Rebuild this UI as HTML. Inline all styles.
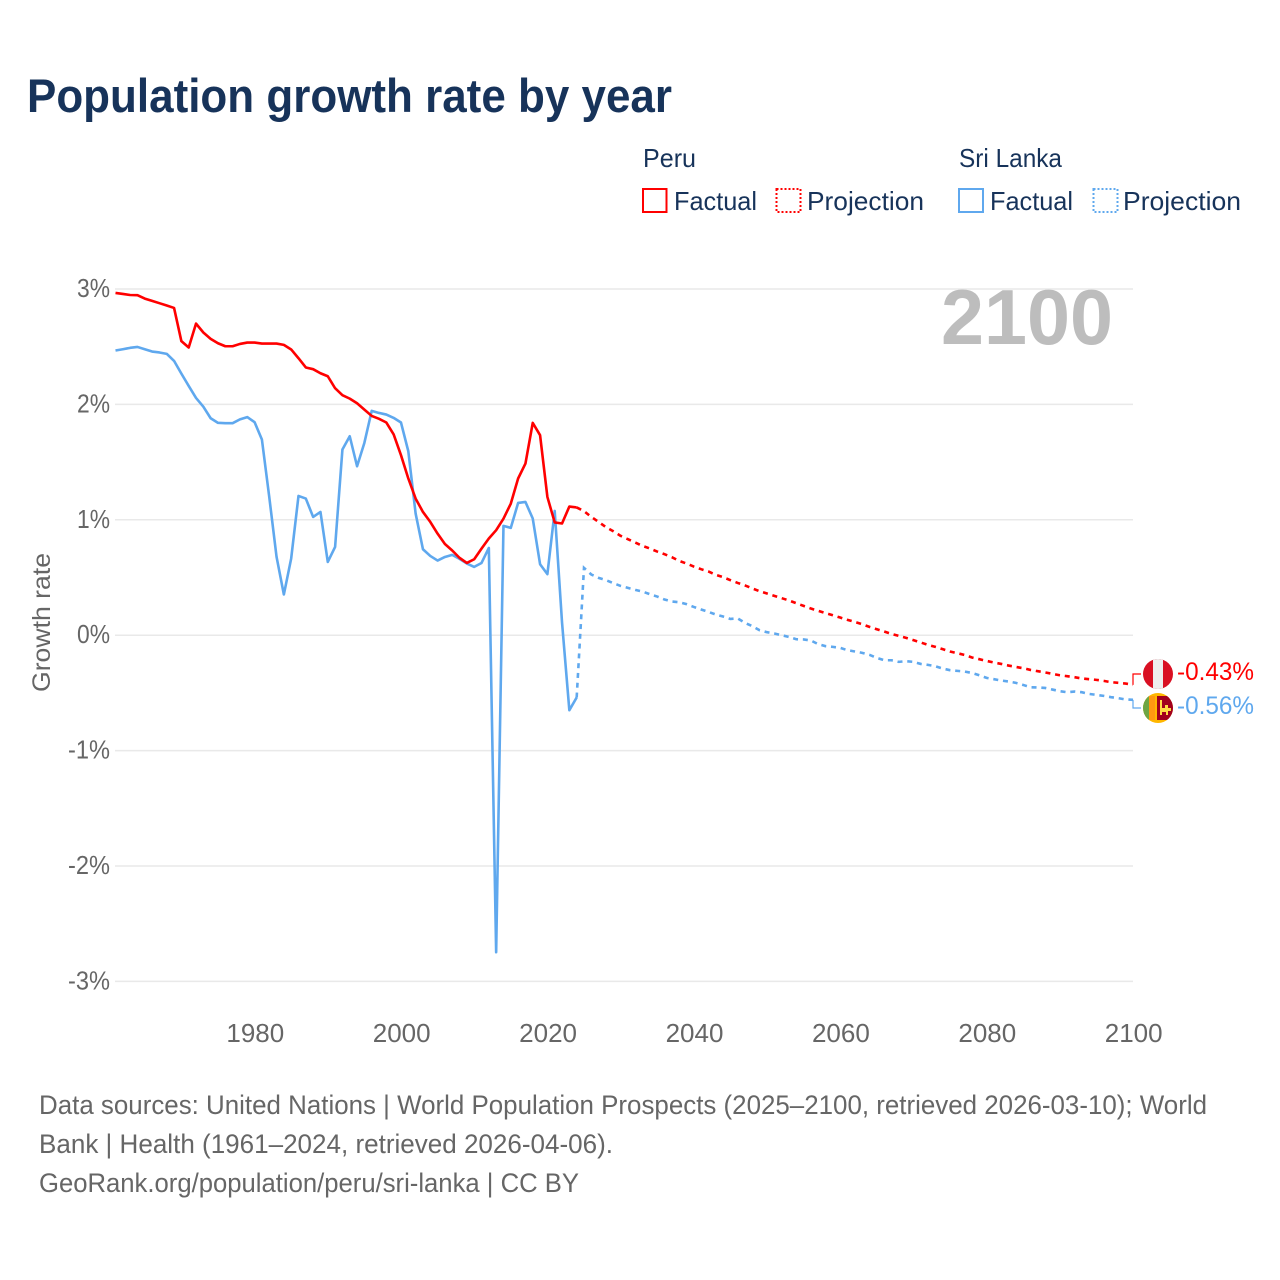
<!DOCTYPE html>
<html lang="en">
<head>
<meta charset="utf-8">
<title>Population growth rate by year</title>
<style>
  html, body { margin: 0; padding: 0; background: #fff; }
  svg { display: block; font-family: "Liberation Sans", sans-serif; }
</style>
</head>
<body>
<svg id="chart" xmlns="http://www.w3.org/2000/svg" width="1280" height="1280" viewBox="0 0 1280 1280">
  <rect width="1280" height="1280" fill="#ffffff"/>
  <text x="27" y="112" font-size="47" font-weight="700" fill="#17335a" textLength="645" lengthAdjust="spacingAndGlyphs">Population growth rate by year</text>

  <g font-size="26" fill="#17335a">
    <text x="643" y="167" textLength="53" lengthAdjust="spacingAndGlyphs">Peru</text>
    <text x="959" y="167" textLength="103" lengthAdjust="spacingAndGlyphs">Sri Lanka</text>
    <rect x="643" y="189" width="23.5" height="23" fill="none" stroke="#ff0000" stroke-width="2"/>
    <text x="674" y="210" textLength="83" lengthAdjust="spacingAndGlyphs">Factual</text>
    <rect x="776.5" y="189" width="24" height="23" fill="none" stroke="#ff0000" stroke-width="2" stroke-dasharray="2 2"/>
    <text x="807" y="210" textLength="117" lengthAdjust="spacingAndGlyphs">Projection</text>
    <rect x="959" y="189" width="24" height="23" fill="none" stroke="#5fa8ee" stroke-width="2"/>
    <text x="990" y="210" textLength="83" lengthAdjust="spacingAndGlyphs">Factual</text>
    <rect x="1093.5" y="189" width="24" height="23" fill="none" stroke="#5fa8ee" stroke-width="2" stroke-dasharray="2 2"/>
    <text x="1123" y="210" textLength="118" lengthAdjust="spacingAndGlyphs">Projection</text>
  </g>

  <g id="grid"></g>
  <g id="yticks" font-size="26" fill="#666666" text-anchor="end"></g>
  <g id="xticks" font-size="26" fill="#666666" text-anchor="middle"></g>
  <text transform="translate(50,622.5) rotate(-90)" text-anchor="middle" font-size="25" fill="#666666" textLength="139" lengthAdjust="spacingAndGlyphs">Growth rate</text>
  <text x="941" y="344" font-size="78" font-weight="700" fill="#bdbdbd" textLength="172" lengthAdjust="spacingAndGlyphs">2100</text>

  <g id="series"></g>

  <defs>
    <clipPath id="clip-peru"><circle cx="1158" cy="674" r="15"/></clipPath>
    <clipPath id="clip-lk"><circle cx="1158" cy="708" r="15"/></clipPath>
  </defs>
  <g clip-path="url(#clip-peru)">
    <rect x="1143" y="659" width="30" height="30" fill="#d91023"/>
    <rect x="1153" y="659" width="10" height="30" fill="#eeeeee"/>
  </g>
  <g clip-path="url(#clip-lk)">
    <rect x="1143" y="693" width="30" height="30" fill="#ffb700"/>
    <rect x="1143" y="696" width="6" height="24" fill="#6da544"/>
    <rect x="1149" y="696" width="6" height="24" fill="#ff9811"/>
    <rect x="1157" y="696" width="16" height="24" fill="#a2001d"/>
    <path d="M1160 700h2v8h3v-3h3v3h3v3h-3v4h-2v-3h-4v3h-2z" fill="#ffda44"/>
  </g>
  <text id="label-peru" x="1177" y="680" font-size="25" fill="#ff0000" textLength="77" lengthAdjust="spacingAndGlyphs"></text>
  <text id="label-lk" x="1177" y="714" font-size="25" fill="#5fa8ee" textLength="77" lengthAdjust="spacingAndGlyphs"></text>

  <g font-size="26.5" fill="#666666">
    <text x="39" y="1114" textLength="1168" lengthAdjust="spacingAndGlyphs">Data sources: United Nations | World Population Prospects (2025–2100, retrieved 2026-03-10); World</text>
    <text x="39" y="1153" textLength="574" lengthAdjust="spacingAndGlyphs">Bank | Health (1961–2024, retrieved 2026-04-06).</text>
    <text x="39" y="1192" textLength="540" lengthAdjust="spacingAndGlyphs">GeoRank.org/population/peru/sri-lanka | CC BY</text>
  </g>
</svg>

<script>
const firstFactualYear = 1961;
const firstProjectionYear = 2025;
const xTickYears = [1980, 2000, 2020, 2040, 2060, 2080, 2100];
const yTickValues = [3, 2, 1, 0, -1, -2, -3];

const peruFactual = [
  2.966,2.957,2.948,2.946,2.917,2.897,2.877,2.857,2.836,2.548,
  2.493,2.70,2.623,2.568,2.53,2.504,2.504,2.524,2.536,2.536,
  2.527,2.527,2.527,2.516,2.476,2.40,2.32,2.305,2.27,2.244,
  2.14,2.08,2.05,2.01,1.955,1.90,1.875,1.843,1.74,1.56,
  1.358,1.184,1.068,0.982,0.88,0.79,0.734,0.67,0.626,0.658,
  0.75,0.838,0.91,1.01,1.14,1.358,1.487,1.84,1.733,1.198,
  0.977,0.968,1.115,1.107
];
const peruProjection = [
  1.075,1.025,0.982,0.936,0.901,0.861,0.832,0.803,0.774,0.751,
  0.725,0.702,0.676,0.644,0.621,0.595,0.572,0.552,0.523,0.503,
  0.477,0.453,0.431,0.405,0.381,0.361,0.341,0.321,0.301,0.277,
  0.254,0.231,0.211,0.191,0.173,0.153,0.133,0.115,0.095,0.072,
  0.052,0.032,0.011,-0.006,-0.023,-0.043,-0.063,-0.084,-0.101,-0.121,
  -0.141,-0.156,-0.171,-0.193,-0.208,-0.223,-0.237,-0.249,-0.263,-0.275,
  -0.286,-0.301,-0.312,-0.323,-0.335,-0.347,-0.355,-0.364,-0.375,-0.381,
  -0.387,-0.396,-0.407,-0.413,-0.419,-0.43
];
const sriLankaFactual = [
  2.467,2.478,2.49,2.498,2.478,2.458,2.45,2.438,2.377,2.267,
  2.16,2.056,1.98,1.88,1.84,1.837,1.837,1.87,1.89,1.846,
  1.696,1.20,0.68,0.353,0.665,1.207,1.184,1.025,1.068,0.635,
  0.765,1.609,1.724,1.464,1.667,1.944,1.926,1.912,1.883,1.843,
  1.594,1.054,0.745,0.687,0.647,0.678,0.696,0.661,0.621,0.592,
  0.626,0.756,-2.747,0.947,0.93,1.146,1.155,1.011,0.615,0.529,
  1.077,0.11,-0.65,-0.54
];
const sriLankaProjection = [
  0.583,0.526,0.497,0.477,0.451,0.427,0.41,0.393,0.378,0.355,
  0.335,0.309,0.292,0.286,0.269,0.245,0.223,0.202,0.179,0.162,
  0.141,0.145,0.107,0.078,0.043,0.026,0.015,0,-0.015,-0.035,
  -0.037,-0.046,-0.078,-0.095,-0.101,-0.11,-0.13,-0.141,-0.153,-0.17,
  -0.197,-0.217,-0.217,-0.231,-0.225,-0.231,-0.249,-0.257,-0.269,-0.289,
  -0.303,-0.309,-0.315,-0.327,-0.347,-0.37,-0.381,-0.393,-0.401,-0.413,
  -0.431,-0.451,-0.453,-0.457,-0.471,-0.485,-0.494,-0.488,-0.494,-0.509,
  -0.517,-0.526,-0.537,-0.546,-0.557,-0.56
];

const SVG_NS = 'http://www.w3.org/2000/svg';
const PLOT_LEFT = 115.5;
const PLOT_RIGHT = 1133;
const Y_ZERO = 635.2;
const PX_PER_YEAR = (PLOT_RIGHT - PLOT_LEFT) / 139;
const PX_PER_UNIT = 115.4;
const xScale = function (year) { return PLOT_LEFT + (year - firstFactualYear) * PX_PER_YEAR; };
const yScale = function (value) { return Y_ZERO - value * PX_PER_UNIT; };

const gridLayer = document.getElementById('grid');
const yTickLayer = document.getElementById('yticks');
const xTickLayer = document.getElementById('xticks');
const seriesLayer = document.getElementById('series');

yTickValues.forEach(function (value) {
  const line = document.createElementNS(SVG_NS, 'line');
  
  
  line.setAttribute('x1', 115);
  line.setAttribute('x2', PLOT_RIGHT);
  line.setAttribute('y1', yScale(value));
  line.setAttribute('y2', yScale(value));
  line.setAttribute('stroke', '#e9e9e9');
  line.setAttribute('stroke-width', '1.5');
  gridLayer.appendChild(line);

  const label = document.createElementNS(SVG_NS, 'text');
  
  
  label.setAttribute('x', 110);
  label.setAttribute('y', yScale(value) + 8);
  label.setAttribute('textLength', value < 0 ? 42 : 33);
  label.setAttribute('lengthAdjust', 'spacingAndGlyphs');
  label.textContent = value + '%';
  yTickLayer.appendChild(label);
});

xTickYears.forEach(function (year) {
  const label = document.createElementNS(SVG_NS, 'text');
  
  
  label.setAttribute('x', xScale(year) + 0.7);
  label.setAttribute('y', 1042);
  label.textContent = year;
  xTickLayer.appendChild(label);
});

function buildPath(startYear, values) {
  return values.map(function (value, i) {
    return (i ? 'L' : 'M') + xScale(startYear + i).toFixed(2) + ' ' + yScale(value).toFixed(2);
  }).join('');
}

const peruFactualLine = document.createElementNS(SVG_NS, 'path');


peruFactualLine.setAttribute('d', buildPath(firstFactualYear, peruFactual));
peruFactualLine.setAttribute('fill', 'none');
peruFactualLine.setAttribute('stroke', '#ff0000');
peruFactualLine.setAttribute('stroke-width', '2.6');
peruFactualLine.setAttribute('stroke-linejoin', 'round');

const sriLankaFactualLine = document.createElementNS(SVG_NS, 'path');


sriLankaFactualLine.setAttribute('d', buildPath(firstFactualYear, sriLankaFactual));
sriLankaFactualLine.setAttribute('fill', 'none');
sriLankaFactualLine.setAttribute('stroke', '#5fa8ee');
sriLankaFactualLine.setAttribute('stroke-width', '2.6');
sriLankaFactualLine.setAttribute('stroke-linejoin', 'round');

const peruJoined = [peruFactual[peruFactual.length - 1]].concat(peruProjection);
const sriLankaJoined = [sriLankaFactual[sriLankaFactual.length - 1]].concat(sriLankaProjection);

const peruProjectionLine = document.createElementNS(SVG_NS, 'path');


peruProjectionLine.setAttribute('d', buildPath(firstProjectionYear - 1, peruJoined));
peruProjectionLine.setAttribute('fill', 'none');
peruProjectionLine.setAttribute('stroke', '#ff0000');
peruProjectionLine.setAttribute('stroke-width', '2.6');
peruProjectionLine.setAttribute('stroke-dasharray', '5 4.8');

const sriLankaProjectionLine = document.createElementNS(SVG_NS, 'path');


sriLankaProjectionLine.setAttribute('d', buildPath(firstProjectionYear - 1, sriLankaJoined));
sriLankaProjectionLine.setAttribute('fill', 'none');
sriLankaProjectionLine.setAttribute('stroke', '#5fa8ee');
sriLankaProjectionLine.setAttribute('stroke-width', '2.6');
sriLankaProjectionLine.setAttribute('stroke-dasharray', '5 4.8');

seriesLayer.appendChild(sriLankaFactualLine);
seriesLayer.appendChild(peruFactualLine);
seriesLayer.appendChild(sriLankaProjectionLine);
seriesLayer.appendChild(peruProjectionLine);

const peruLast = peruProjection[peruProjection.length - 1];
const sriLankaLast = sriLankaProjection[sriLankaProjection.length - 1];

const peruConnector = document.createElementNS(SVG_NS, 'path');


peruConnector.setAttribute('d', 'M' + PLOT_RIGHT + ' ' + yScale(peruLast) + 'V674H1141');
peruConnector.setAttribute('fill', 'none');
peruConnector.setAttribute('stroke', '#ff0000');
peruConnector.setAttribute('stroke-width', '1.2');
seriesLayer.appendChild(peruConnector);

const sriLankaConnector = document.createElementNS(SVG_NS, 'path');


sriLankaConnector.setAttribute('d', 'M' + PLOT_RIGHT + ' ' + yScale(sriLankaLast) + 'V708H1141');
sriLankaConnector.setAttribute('fill', 'none');
sriLankaConnector.setAttribute('stroke', '#5fa8ee');
sriLankaConnector.setAttribute('stroke-width', '1.2');
seriesLayer.appendChild(sriLankaConnector);

document.getElementById('label-peru').textContent = peruLast.toFixed(2) + '%';
document.getElementById('label-lk').textContent = sriLankaLast.toFixed(2) + '%';
</script>
</body>
</html>
